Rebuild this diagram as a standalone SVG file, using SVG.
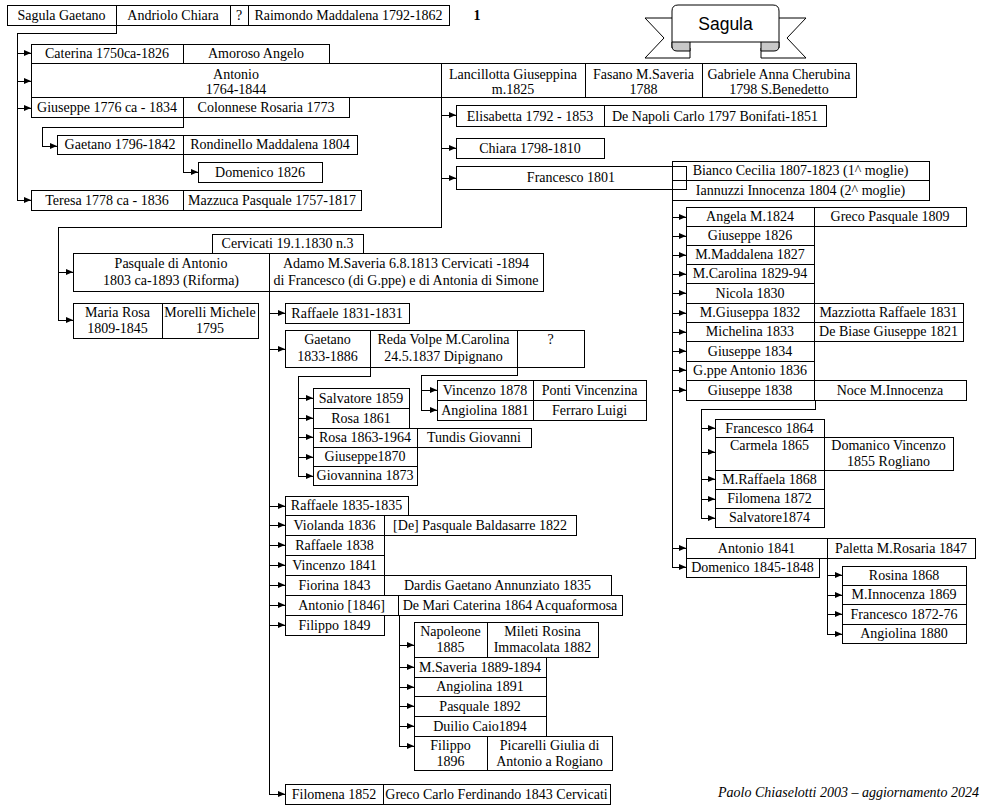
<svg xmlns="http://www.w3.org/2000/svg" width="1000" height="810" viewBox="0 0 1000 810">
<style>
.b{fill:#fff;stroke:#000;stroke-width:1;shape-rendering:crispEdges}
.o{fill:none;stroke:#000;stroke-width:1;shape-rendering:crispEdges}
text{font-family:"Liberation Serif","Times New Roman",serif;font-size:14px;text-anchor:middle;fill:#000}
#connectors path{fill:none;stroke:#000;stroke-width:1;shape-rendering:crispEdges;marker-end:url(#ah)}
.rb{fill:#fff;stroke:#000;stroke-width:1}
.fold{fill:#c8c8c8;stroke:#000;stroke-width:1}
</style>
<defs>
<marker id="ah" viewBox="0 0 7 6" refX="7" refY="3" markerWidth="7" markerHeight="6" markerUnits="userSpaceOnUse" orient="auto">
<path d="M0,0 L7,3 L0,6 z" fill="#000"/>
</marker>
</defs>
<rect width="1000" height="810" fill="#fff"/>

<g id="connectors">
<path d="M116,25 V33 H17 V200 H31"/>
<path d="M17,53 H31"/><path d="M17,81 H31"/><path d="M17,108 H31"/>
<path d="M183,117 V127 H42 V146 H57"/>
<path d="M183,154 V172 H198"/>
<path d="M441,97 V227 H58 V320 H73"/>
<path d="M58,272 H73"/>
<path d="M441,115 H456"/><path d="M441,148 H456"/><path d="M441,178 H456"/>
<path d="M672,200 V567 H686"/>
<path d="M672,217 H686"/><path d="M672,236 H686"/><path d="M672,255 H686"/><path d="M672,274 H686"/><path d="M672,293 H686"/><path d="M672,313 H686"/><path d="M672,332 H686"/><path d="M672,351 H686"/><path d="M672,370 H686"/><path d="M672,390 H686"/><path d="M672,548 H686"/>
<path d="M815,400 V409 H701 V518 H715"/>
<path d="M701,428 H715"/><path d="M701,452 H715"/><path d="M701,479 H715"/><path d="M701,499 H715"/>
<path d="M827,558 V634 H842"/>
<path d="M827,575 H842"/><path d="M827,595 H842"/><path d="M827,614 H842"/>
<path d="M269,291 V794 H285"/>
<path d="M269,313 H285"/><path d="M269,349 H285"/><path d="M269,506 H285"/><path d="M269,525 H285"/><path d="M269,545 H285"/><path d="M269,565 H285"/><path d="M269,585 H285"/><path d="M269,605 H285"/><path d="M269,625 H285"/>
<path d="M370,367 V376 H298 V476 H313"/>
<path d="M298,398 H313"/><path d="M298,418 H313"/><path d="M298,437 H313"/><path d="M298,457 H313"/>
<path d="M517,367 V375 H421 V410 H437"/>
<path d="M421,390 H437"/>
<path d="M399,615 V746 H414"/>
<path d="M399,645 H414"/><path d="M399,667 H414"/><path d="M399,687 H414"/><path d="M399,706 H414"/><path d="M399,726 H414"/>
</g>

<g id="title">
<path class="rb" d="M672,18 H645 L664,38 L645,58 H690 V42"/>
<path class="rb" d="M779,18 H806 L787,38 L806,58 H761 V42"/>
<path class="rb" d="M672,48 V11 Q672,5 678,5 H773 Q779,5 779,11 V48 M690,42 H761"/>
<path class="fold" d="M672,42 H690 V51 H677 Q672,51 672,46 Z"/>
<path class="fold" d="M779,42 H761 V51 H774 Q779,51 779,46 Z"/>
<text x="725.5" y="30" style="font-family:'Liberation Sans',Arial,sans-serif;font-size:17.5px">Sagula</text>
</g>
<g id="pagenum"><text x="477" y="20" style="font-weight:bold">1</text></g>

<g id="sagula-gaetano"><rect class="b" x="7" y="5" width="109" height="20"/><text x="61.5" y="20">Sagula Gaetano</text></g>
<g id="andriolo-chiara"><rect class="b" x="116" y="5" width="114" height="20"/><text x="173" y="20">Andriolo Chiara</text></g>
<g id="q-top"><rect class="b" x="230" y="5" width="18" height="20"/><text x="239" y="20">?</text></g>
<g id="raimondo-maddalena"><rect class="b" x="248" y="5" width="201" height="20"/><text x="348.5" y="20">Raimondo Maddalena 1792-1862</text></g>

<g id="caterina"><rect class="b" x="31" y="44" width="152" height="19"/><text x="107" y="58">Caterina 1750ca-1826</text></g>
<g id="amoroso-angelo"><rect class="b" x="183" y="44" width="146" height="19"/><text x="256" y="58">Amoroso Angelo</text></g>

<g id="antonio"><rect class="b" x="31" y="63" width="410" height="34"/><text x="236" y="79">Antonio</text><text x="236" y="94">1764-1844</text></g>
<g id="lancillotta"><rect class="b" x="441" y="63" width="144" height="34"/><text x="513" y="79">Lancillotta Giuseppina</text><text x="513" y="94">m.1825</text></g>
<g id="fasano"><rect class="b" x="585" y="63" width="117" height="34"/><text x="643.5" y="79">Fasano M.Saveria</text><text x="643.5" y="94">1788</text></g>
<g id="gabriele"><rect class="b" x="702" y="63" width="154" height="34"/><text x="779" y="79">Gabriele Anna Cherubina</text><text x="779" y="94">1798 S.Benedetto</text></g>

<g id="giuseppe-1776"><rect class="b" x="31" y="97" width="152" height="20"/><text x="107" y="112">Giuseppe 1776 ca - 1834</text></g>
<g id="colonnese"><rect class="b" x="183" y="97" width="166" height="20"/><text x="266" y="112">Colonnese Rosaria 1773</text></g>
<g id="gaetano-1796"><rect class="b" x="57" y="135" width="126" height="19"/><text x="120" y="149">Gaetano 1796-1842</text></g>
<g id="rondinello"><rect class="b" x="183" y="135" width="174" height="19"/><text x="270" y="149">Rondinello Maddalena 1804</text></g>
<g id="domenico-1826"><rect class="b" x="198" y="162" width="124" height="20"/><text x="260" y="177">Domenico 1826</text></g>
<g id="teresa"><rect class="b" x="31" y="190" width="152" height="20"/><text x="107" y="205">Teresa 1778 ca - 1836</text></g>
<g id="mazzuca"><rect class="b" x="183" y="190" width="178" height="20"/><text x="272" y="205">Mazzuca Pasquale 1757-1817</text></g>

<g id="elisabetta"><rect class="b" x="456" y="105" width="148" height="21"/><text x="530" y="120.5">Elisabetta 1792 - 1853</text></g>
<g id="de-napoli"><rect class="b" x="604" y="105" width="222" height="21"/><text x="715" y="120.5">De Napoli Carlo 1797 Bonifati-1851</text></g>
<g id="chiara"><rect class="b" x="456" y="138" width="148" height="20"/><text x="530" y="153">Chiara 1798-1810</text></g>
<g id="bianco"><rect class="o" x="672" y="161" width="257" height="19"/><text x="800.5" y="175">Bianco Cecilia 1807-1823 (1^ moglie)</text></g>
<g id="iannuzzi"><rect class="o" x="672" y="180" width="257" height="20"/><text x="800.5" y="195">Iannuzzi Innocenza 1804 (2^ moglie)</text></g>
<g id="francesco-1801"><rect class="o" x="456" y="166" width="230" height="23"/><text x="571" y="182">Francesco 1801</text></g>

<g id="angela"><rect class="b" x="686" y="207" width="128" height="19"/><text x="750" y="221">Angela M.1824</text></g>
<g id="greco-pasquale"><rect class="b" x="814" y="207" width="152" height="19"/><text x="890" y="221">Greco Pasquale 1809</text></g>
<g id="giuseppe-1826"><rect class="b" x="686" y="226" width="128" height="19"/><text x="750" y="240">Giuseppe 1826</text></g>
<g id="m-maddalena"><rect class="b" x="686" y="245" width="128" height="19"/><text x="750" y="259">M.Maddalena 1827</text></g>
<g id="m-carolina"><rect class="b" x="686" y="264" width="128" height="19"/><text x="750" y="278">M.Carolina 1829-94</text></g>
<g id="nicola"><rect class="b" x="686" y="283" width="128" height="20"/><text x="750" y="298">Nicola 1830</text></g>
<g id="m-giuseppa"><rect class="b" x="686" y="303" width="128" height="19"/><text x="750" y="317">M.Giuseppa 1832</text></g>
<g id="mazziotta"><rect class="b" x="814" y="303" width="149" height="19"/><text x="888.5" y="317">Mazziotta Raffaele 1831</text></g>
<g id="michelina"><rect class="b" x="686" y="322" width="128" height="19"/><text x="750" y="336">Michelina 1833</text></g>
<g id="de-biase"><rect class="b" x="814" y="322" width="149" height="19"/><text x="888.5" y="336">De Biase Giuseppe 1821</text></g>
<g id="giuseppe-1834"><rect class="b" x="686" y="341" width="128" height="20"/><text x="750" y="356">Giuseppe 1834</text></g>
<g id="gppe-antonio"><rect class="b" x="686" y="361" width="128" height="19"/><text x="750" y="375">G.ppe Antonio 1836</text></g>
<g id="giuseppe-1838"><rect class="b" x="686" y="380" width="128" height="20"/><text x="750" y="395">Giuseppe 1838</text></g>
<g id="noce"><rect class="b" x="814" y="380" width="152" height="20"/><text x="890" y="395">Noce M.Innocenza</text></g>

<g id="francesco-1864"><rect class="b" x="715" y="419" width="109" height="18"/><text x="769.5" y="433">Francesco 1864</text></g>
<g id="carmela"><rect class="b" x="715" y="437" width="109" height="33"/><text x="769.5" y="450">Carmela 1865</text></g>
<g id="domanico"><rect class="b" x="824" y="437" width="129" height="33"/><text x="888.5" y="450">Domanico Vincenzo</text><text x="888.5" y="466">1855 Rogliano</text></g>
<g id="m-raffaela"><rect class="b" x="715" y="470" width="109" height="19"/><text x="769.5" y="484">M.Raffaela 1868</text></g>
<g id="filomena-1872"><rect class="b" x="715" y="489" width="109" height="19"/><text x="769.5" y="503">Filomena 1872</text></g>
<g id="salvatore-1874"><rect class="b" x="715" y="508" width="109" height="19"/><text x="769.5" y="522">Salvatore1874</text></g>

<g id="antonio-1841"><rect class="b" x="686" y="538" width="141" height="20"/><text x="756.5" y="553">Antonio 1841</text></g>
<g id="paletta"><rect class="b" x="827" y="538" width="148" height="20"/><text x="901" y="553">Paletta M.Rosaria 1847</text></g>
<g id="domenico-1845"><rect class="b" x="686" y="558" width="133" height="19"/><text x="752.5" y="572">Domenico 1845-1848</text></g>
<g id="rosina"><rect class="b" x="842" y="566" width="124" height="19"/><text x="904" y="580">Rosina 1868</text></g>
<g id="m-innocenza"><rect class="b" x="842" y="585" width="124" height="19"/><text x="904" y="599">M.Innocenza 1869</text></g>
<g id="francesco-1872"><rect class="b" x="842" y="604" width="124" height="20"/><text x="904" y="619">Francesco 1872-76</text></g>
<g id="angiolina-1880"><rect class="b" x="842" y="624" width="124" height="19"/><text x="904" y="638">Angiolina 1880</text></g>

<g id="cervicati"><rect class="b" x="212" y="234" width="151" height="19"/><text x="287.5" y="248">Cervicati 19.1.1830 n.3</text></g>
<g id="pasquale"><rect class="b" x="73" y="253" width="196" height="38"/><text x="171" y="268">Pasquale di Antonio</text><text x="171" y="285">1803 ca-1893 (Riforma)</text></g>
<g id="adamo"><rect class="b" x="269" y="253" width="274" height="38"/><text x="406" y="268">Adamo M.Saveria 6.8.1813 Cervicati -1894</text><text x="406" y="285">di Francesco (di G.ppe) e di Antonia di Simone</text></g>
<g id="maria-rosa"><rect class="b" x="73" y="303" width="89" height="35"/><text x="117.5" y="317">Maria Rosa</text><text x="117.5" y="333">1809-1845</text></g>
<g id="morelli"><rect class="b" x="162" y="303" width="96" height="35"/><text x="210" y="317">Morelli Michele</text><text x="210" y="333">1795</text></g>

<g id="raffaele-1831"><rect class="b" x="285" y="303" width="124" height="20"/><text x="347" y="318">Raffaele 1831-1831</text></g>
<g id="gaetano-1833"><rect class="b" x="285" y="330" width="85" height="37"/><text x="327.5" y="344">Gaetano</text><text x="327.5" y="361">1833-1886</text></g>
<g id="reda-volpe"><rect class="b" x="370" y="330" width="147" height="37"/><text x="443.5" y="344">Reda Volpe M.Carolina</text><text x="443.5" y="361">24.5.1837 Dipignano</text></g>
<g id="q-gaetano"><rect class="b" x="517" y="330" width="67" height="37"/><text x="550.5" y="344">?</text></g>

<g id="salvatore-1859"><rect class="b" x="313" y="388" width="96" height="20"/><text x="361" y="403">Salvatore 1859</text></g>
<g id="rosa-1861"><rect class="b" x="313" y="408" width="96" height="20"/><text x="361" y="423">Rosa 1861</text></g>
<g id="rosa-1863"><rect class="b" x="313" y="428" width="104" height="19"/><text x="365" y="442">Rosa 1863-1964</text></g>
<g id="tundis"><rect class="b" x="417" y="428" width="114" height="19"/><text x="474" y="442">Tundis Giovanni</text></g>
<g id="giuseppe-1870"><rect class="b" x="313" y="447" width="104" height="19"/><text x="365" y="461">Giuseppe1870</text></g>
<g id="giovannina"><rect class="b" x="313" y="466" width="104" height="19"/><text x="365" y="480">Giovannina 1873</text></g>

<g id="vincenzo-1878"><rect class="b" x="437" y="380" width="96" height="20"/><text x="485" y="395">Vincenzo 1878</text></g>
<g id="ponti"><rect class="b" x="533" y="380" width="113" height="20"/><text x="589.5" y="395">Ponti Vincenzina</text></g>
<g id="angiolina-1881"><rect class="b" x="437" y="400" width="96" height="20"/><text x="485" y="415">Angiolina 1881</text></g>
<g id="ferraro"><rect class="b" x="533" y="400" width="113" height="20"/><text x="589.5" y="415">Ferraro Luigi</text></g>

<g id="raffaele-1835"><rect class="b" x="285" y="496" width="123" height="19"/><text x="346.5" y="510">Raffaele 1835-1835</text></g>
<g id="violanda"><rect class="b" x="285" y="515" width="99" height="20"/><text x="334.5" y="530">Violanda 1836</text></g>
<g id="de-pasquale"><rect class="b" x="384" y="515" width="192" height="20"/><text x="480" y="530">[De] Pasquale Baldasarre 1822</text></g>
<g id="raffaele-1838"><rect class="b" x="285" y="535" width="99" height="20"/><text x="334.5" y="550">Raffaele 1838</text></g>
<g id="vincenzo-1841"><rect class="b" x="285" y="555" width="99" height="20"/><text x="334.5" y="570">Vincenzo 1841</text></g>
<g id="fiorina"><rect class="b" x="285" y="575" width="99" height="20"/><text x="334.5" y="590">Fiorina 1843</text></g>
<g id="dardis"><rect class="b" x="384" y="575" width="227" height="20"/><text x="497.5" y="590">Dardis Gaetano Annunziato 1835</text></g>
<g id="antonio-1846"><rect class="b" x="285" y="595" width="113" height="20"/><text x="341.5" y="610">Antonio [1846]</text></g>
<g id="de-mari"><rect class="b" x="398" y="595" width="224" height="20"/><text x="510" y="610">De Mari Caterina 1864 Acquaformosa</text></g>
<g id="filippo-1849"><rect class="b" x="285" y="615" width="99" height="20"/><text x="334.5" y="630">Filippo 1849</text></g>

<g id="napoleone"><rect class="b" x="414" y="622" width="73" height="35"/><text x="450.5" y="636">Napoleone</text><text x="450.5" y="652">1885</text></g>
<g id="mileti"><rect class="b" x="487" y="622" width="111" height="35"/><text x="542.5" y="636">Mileti Rosina</text><text x="542.5" y="652">Immacolata 1882</text></g>
<g id="m-saveria"><rect class="b" x="414" y="657" width="132" height="20"/><text x="480" y="672">M.Saveria 1889-1894</text></g>
<g id="angiolina-1891"><rect class="b" x="414" y="677" width="132" height="19"/><text x="480" y="691">Angiolina 1891</text></g>
<g id="pasquale-1892"><rect class="b" x="414" y="696" width="132" height="20"/><text x="480" y="711">Pasquale 1892</text></g>
<g id="duilio"><rect class="b" x="414" y="716" width="132" height="20"/><text x="480" y="731">Duilio Caio1894</text></g>
<g id="filippo-1896"><rect class="b" x="414" y="736" width="73" height="34"/><text x="450.5" y="750">Filippo</text><text x="450.5" y="766">1896</text></g>
<g id="picarelli"><rect class="b" x="487" y="736" width="125" height="34"/><text x="549.5" y="750">Picarelli Giulia di</text><text x="549.5" y="766">Antonio a Rogiano</text></g>

<g id="filomena-1852"><rect class="b" x="285" y="784" width="98" height="20"/><text x="334" y="799">Filomena 1852</text></g>
<g id="greco-carlo"><rect class="b" x="383" y="784" width="227" height="20"/><text x="496.5" y="799">Greco Carlo Ferdinando 1843 Cervicati</text></g>

<g id="footer"><text x="979" y="797" style="text-anchor:end;font-style:italic">Paolo Chiaselotti 2003 – aggiornamento 2024</text></g>
</svg>
